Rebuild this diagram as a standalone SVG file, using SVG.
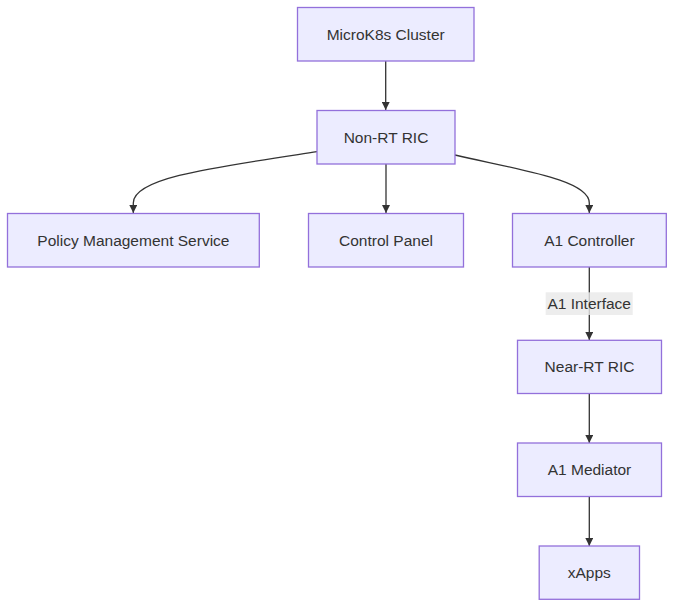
<svg xmlns="http://www.w3.org/2000/svg" width="682" height="614" viewBox="0 0 682 614">
<style>
.node rect{fill:#ECECFF;stroke:#9370DB;stroke-width:1.3}
.node text,.lbl text{font-family:"Liberation Sans",Arial,sans-serif;font-size:15.5px;fill:#333333;text-anchor:middle;dominant-baseline:central}
.edge{fill:none;stroke:#333333;stroke-width:1.3}
</style>
<defs>
<marker id="arr" viewBox="0 0 10 10" refX="10" refY="5" markerUnits="userSpaceOnUse" markerWidth="8" markerHeight="8" orient="auto">
<path d="M0,0 L10,5 L0,10 z" fill="#333333"/>
</marker>
</defs>
<rect width="682" height="614" fill="#ffffff"/>
<g id="edges">
<path class="edge" d="M385.7,61 L385.7,110" marker-end="url(#arr)"/>
<path class="edge" d="M317,151.7 C210,168 133.3,178 133.3,203 L133.3,213" marker-end="url(#arr)"/>
<path class="edge" d="M386,164 L386,213" marker-end="url(#arr)"/>
<path class="edge" d="M455,155 C520,170 589.3,180 589.3,203 L589.3,213" marker-end="url(#arr)"/>
<path class="edge" d="M589.3,267 L589.3,340" marker-end="url(#arr)"/>
<path class="edge" d="M589.3,393.5 L589.3,443" marker-end="url(#arr)"/>
<path class="edge" d="M589.3,496.5 L589.3,546" marker-end="url(#arr)"/>
</g>
<g id="label-a1" class="lbl">
<rect x="545.7" y="292.3" width="87" height="22.7" fill="#e8e8e8" opacity="0.8"/>
<text x="589.2" y="303.6">A1 Interface</text>
</g>
<g id="microk8s" class="node">
<rect x="297.5" y="7.5" width="176.5" height="53.5"/>
<text x="385.7" y="34.3">MicroK8s Cluster</text>
</g>
<g id="nonrt" class="node">
<rect x="317" y="110.5" width="138" height="53.5"/>
<text x="386" y="137.2">Non-RT RIC</text>
</g>
<g id="policy" class="node">
<rect x="7.5" y="213.5" width="251.8" height="53.5"/>
<text x="133.4" y="240.2">Policy Management Service</text>
</g>
<g id="control" class="node">
<rect x="308.5" y="213.5" width="155" height="53.5"/>
<text x="386" y="240.2">Control Panel</text>
</g>
<g id="a1ctrl" class="node">
<rect x="512.5" y="213.5" width="153.8" height="53.5"/>
<text x="589.4" y="240.2">A1 Controller</text>
</g>
<g id="nearrt" class="node">
<rect x="517.5" y="340.3" width="144" height="53.2"/>
<text x="589.5" y="366.9">Near-RT RIC</text>
</g>
<g id="mediator" class="node">
<rect x="517.5" y="443" width="144" height="53.5"/>
<text x="589.5" y="469.7">A1 Mediator</text>
</g>
<g id="xapps" class="node">
<rect x="539.2" y="546" width="100.3" height="53.3"/>
<text x="589.3" y="572.6">xApps</text>
</g>
</svg>
